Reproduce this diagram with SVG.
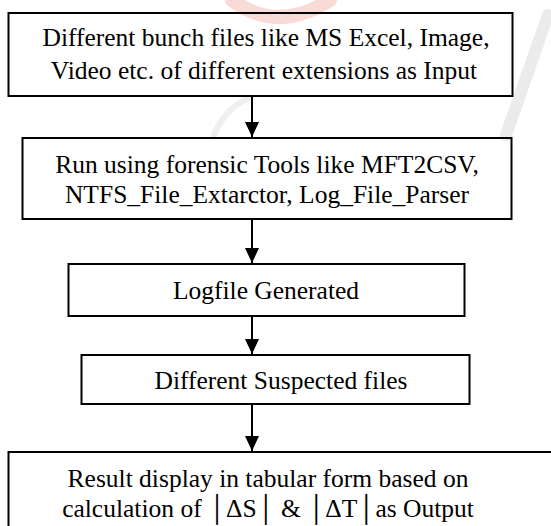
<svg xmlns="http://www.w3.org/2000/svg" width="551" height="526" viewBox="0 0 551 526">
<style>
.box{fill:none;stroke:#000;stroke-width:2}
.t{font-family:"Liberation Serif","Times New Roman",serif;font-size:25.5px;fill:#000;text-anchor:middle}
.conn{stroke:#000;stroke-width:2;fill:none}
.wm{fill:none;stroke-linecap:round}
</style>
<defs>
<marker id="ah" markerUnits="userSpaceOnUse" markerWidth="16" markerHeight="16" refX="15" refY="7" orient="auto">
<path d="M0,0 L15,7 L0,14 Z" fill="#000"/>
</marker>
</defs>
<rect width="551" height="526" fill="#fff"/>
<g id="watermark" opacity="0.5">
<path class="wm" d="M232,0 Q278,34 330,0" stroke="#f3b8b0" stroke-width="14"/>
<path class="wm" d="M548,15 L506,135" stroke="#d8d8d8" stroke-width="12"/>
<path class="wm" d="M249,98 Q225,108 214,135" stroke="#e0e0e0" stroke-width="6"/>
</g>
<g id="connectors">
<line class="conn" x1="252" y1="97" x2="252" y2="137" marker-end="url(#ah)"/>
<line class="conn" x1="252" y1="220" x2="252" y2="263" marker-end="url(#ah)"/>
<line class="conn" x1="252" y1="317" x2="252" y2="354" marker-end="url(#ah)"/>
<line class="conn" x1="252" y1="405" x2="252" y2="451" marker-end="url(#ah)"/>
</g>
<g id="n1">
<rect class="box" x="8.5" y="13" width="504" height="83"/>
<text class="t" x="266" y="46">Different bunch files like MS Excel, Image,</text>
<text class="t" x="264" y="78.5">Video etc. of different extensions as Input</text>
</g>
<g id="n2">
<rect class="box" x="22.5" y="138" width="489" height="81"/>
<text class="t" x="267" y="173">Run using forensic Tools like MFT2CSV,</text>
<text class="t" x="267" y="203">NTFS_File_Extarctor, Log_File_Parser</text>
</g>
<g id="n3">
<rect class="box" x="68.5" y="264" width="396" height="52"/>
<text class="t" x="266" y="299">Logfile Generated</text>
</g>
<g id="n4">
<rect class="box" x="81.5" y="355" width="388" height="49"/>
<text class="t" x="281" y="389">Different Suspected files</text>
</g>
<g id="n5">
<rect class="box" x="8.5" y="452" width="545" height="80"/>
<text class="t" x="268" y="487">Result display in tabular form based on</text>
<text class="t" x="268" y="517">calculation of │ΔS│ &amp; │ΔT│as Output</text>
</g>
</svg>
